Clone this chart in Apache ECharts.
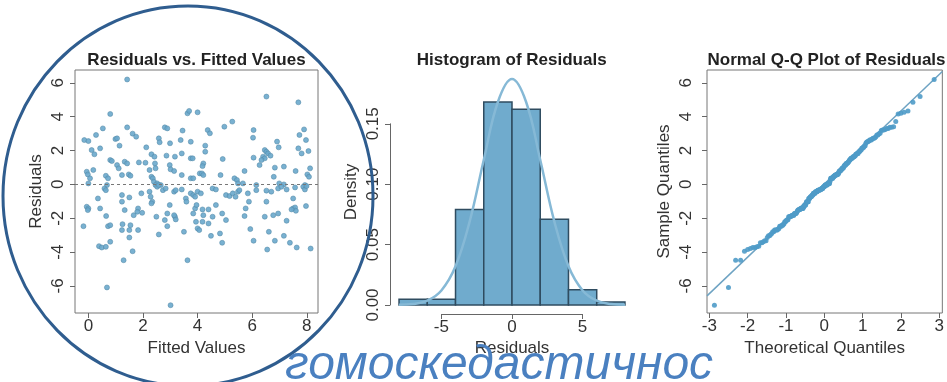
<!DOCTYPE html>
<html>
<head>
<meta charset="utf-8">
<script src="https://cdn.jsdelivr.net/npm/echarts@6/dist/echarts.min.js"></script>
<style>html,body{margin:0;padding:0;background:#fff}#c{width:947px;height:382px}</style>
</head>
<body>
<div id="c"></div>
<script>
// ---- data ----
const fittedValues = [
1.42,0.80,3.63,3.69,0.53,1.42,1.62,1.75,2.80,2.89,3.45,0.28,-0.15,0.00,0.99,1.05,2.58,2.61,2.99,3.38,
3.75,0.43,0.12,0.22,1.14,2.12,2.31,2.42,2.86,3.17,3.42,3.75,3.82,0.80,0.86,1.33,1.42,1.05,1.11,1.85,
2.09,2.44,2.46,2.24,2.98,3.01,3.14,-0.06,-0.02,0.18,0.64,0.72,1.23,1.48,1.54,2.31,2.36,2.40,2.52,3.42,
3.75,3.84,4.08,0.00,0.06,0.68,2.65,
6.52,7.69,4.00,5.27,4.98,4.37,4.45,6.05,7.90,6.03,7.73,7.97,4.28,4.28,6.91,6.97,7.69,7.81,8.06,6.46,
6.52,6.58,6.40,6.46,6.34,6.67,6.05,6.27,4.92,4.21,4.18,4.16,4.21,5.72,4.84,6.83,7.16,7.59,8.12,8.02,
8.08,6.79,5.35,5.44,5.48,5.66,6.15,6.99,7.16,7.93,
2.46,2.52,2.58,0.59,0.64,0.35,1.23,1.23,1.50,1.94,2.24,2.28,2.34,2.31,2.73,2.83,3.14,3.20,3.42,3.57,
3.59,3.75,3.84,4.00,3.91,-0.06,0.00,-0.02,0.43,1.33,1.82,1.79,1.97,1.66,2.98,3.17,3.20,3.14,2.89,2.80,
2.49,2.89,3.84,3.91,3.96,3.94,4.00,4.06,0.65,-0.18,0.72,0.80,1.25,1.23,1.54,1.50,1.82,2.58,3.50,1.50,
0.80,0.39,0.49,0.64,1.62,1.29,3.63,0.68,3.01,
4.12,4.55,4.67,5.04,5.17,5.29,5.39,5.48,5.53,5.84,6.15,6.52,6.70,6.95,7.07,7.26,7.57,7.87,7.93,7.99,
7.50,5.88,6.52,4.18,4.40,4.67,4.21,4.18,4.40,4.55,4.90,5.04,5.76,5.72,6.46,6.77,6.95,7.50,7.57,7.60,
7.44,7.97,7.26,4.49,4.82,4.90,5.93,6.05,6.61,6.83,7.16,7.38,7.63,6.55,8.14
];
const residualValues = [
6.20,4.16,4.20,4.34,3.31,3.37,3.00,2.82,3.37,3.31,3.18,2.92,2.62,2.56,2.68,2.72,2.72,2.49,2.43,2.62,
2.52,2.13,2.03,1.78,2.29,2.19,1.78,1.64,1.70,1.64,1.83,1.54,1.54,1.44,1.38,1.34,1.24,1.14,0.95,1.30,
1.28,1.24,0.95,0.85,1.14,0.89,0.79,0.75,0.59,0.85,0.51,0.36,0.55,0.59,0.51,0.45,0.36,0.16,0.06,0.55,
0.36,0.36,0.65,0.06,0.36,-0.04,-0.04,
5.19,4.85,4.26,3.71,3.41,3.21,3.02,3.21,3.25,2.76,2.92,2.62,2.29,1.93,2.53,2.19,2.13,1.83,1.97,2.03,
1.93,1.83,1.64,1.54,1.44,1.70,1.58,1.14,1.50,1.24,1.08,0.65,0.55,0.79,0.55,0.99,1.05,0.79,0.95,0.59,
0.45,0.45,0.36,0.26,0.06,0.06,-0.04,0.06,0.00,-0.04,
-0.04,-0.14,-0.04,-0.24,-0.34,-0.83,-0.63,-1.02,-0.77,-0.53,-0.43,-0.73,-1.02,-1.12,-0.34,-0.24,-0.43,-0.34,-0.30,-0.83,
-1.02,-0.53,-0.63,-0.43,-0.73,-1.32,-1.42,-1.52,-1.42,-1.52,-1.42,-1.62,-1.68,-1.82,-1.22,-1.91,-2.07,-1.82,-1.72,-2.11,
-1.91,-2.47,-1.72,-1.42,-1.22,-2.21,-2.60,-2.70,-1.87,-2.47,-2.47,-2.41,-2.35,-2.70,-2.41,-2.70,-2.70,-2.96,-2.80,-3.14,
-3.39,-3.65,-3.73,-3.69,-3.95,-4.48,-4.48,-6.09,-7.14,
-0.53,-0.24,-0.30,-0.63,-0.69,-0.53,-0.73,-0.43,-0.34,-0.53,-0.34,-0.37,-0.43,-0.24,-0.14,-0.30,-0.18,-0.14,-0.30,-0.10,
-0.83,-1.02,-1.02,-1.48,-1.48,-1.22,-1.82,-2.21,-2.31,-1.91,-1.72,-2.11,-1.42,-1.87,-1.91,-1.82,-1.72,-1.42,-1.36,-1.56,
-1.48,-1.28,-2.15,-3.04,-2.90,-3.45,-2.64,-3.33,-2.80,-3.33,-3.04,-3.45,-3.73,-3.85,-3.79
];
const histBinStart = [-8,-6,-4,-2,0,2,4,6];
const histBinEnd   = [-6,-4,-2,0,2,4,6,8];
const histDensity  = [0.0047,0.0047,0.079,0.168,0.162,0.071,0.0125,0.0025];
const curveX = [-8,-7,-6,-5,-4,-3,-2,-1,0,1,2,3,4,5,6,7,8];
const curveY = [0.0002,0.0008,0.0035,0.012,0.032,0.069,0.120,0.168,0.187,0.168,0.120,0.069,0.032,0.012,0.0035,0.0008,0.0002];
const scatterXTicks = [0,2,4,6,8];
const residTicks = [-6,-4,-2,0,2,4,6];
const qqXTicks = [-3,-2,-1,0,1,2,3];
const qqLineSlope = 2.16;
const qqLineIntercept = 0.02;
const titles = ['Residuals vs. Fitted Values','Histogram of Residuals','Normal Q-Q Plot of Residuals'];
const overlayText = 'гомоскедастичнос';

// ---- helpers ----
function qnorm(p){
 const a=[-3.969683028665376e+01,2.209460984245205e+02,-2.759285104469687e+02,1.383577518672690e+02,-3.066479806614716e+01,2.506628277459239e+00];
 const b=[-5.447609879822406e+01,1.615858368580409e+02,-1.556989798598866e+02,6.680131188771972e+01,-1.328068155288572e+01];
 const c=[-7.784894002430293e-03,-3.223964580411365e-01,-2.400758277161838e+00,-2.549732539343734e+00,4.374664141464968e+00,2.938163982698783e+00];
 const d=[7.784695709041462e-03,3.224671290700398e-01,2.445134137142996e+00,3.754408661907416e+00];
 const pl=0.02425, ph=1-pl; let q,r;
 if(p<pl){q=Math.sqrt(-2*Math.log(p));return (((((c[0]*q+c[1])*q+c[2])*q+c[3])*q+c[4])*q+c[5])/((((d[0]*q+d[1])*q+d[2])*q+d[3])*q+1);}
 if(p>ph){q=Math.sqrt(-2*Math.log(1-p));return -(((((c[0]*q+c[1])*q+c[2])*q+c[3])*q+c[4])*q+c[5])/((((d[0]*q+d[1])*q+d[2])*q+d[3])*q+1);}
 q=p-0.5;r=q*q;return (((((a[0]*r+a[1])*r+a[2])*r+a[3])*r+a[4])*r+a[5])*q/(((((b[0]*r+b[1])*r+b[2])*r+b[3])*r+b[4])*r+1);
}
const scatterData = fittedValues.map((x,i)=>[x,residualValues[i]]);
const sorted = residualValues.slice().sort((a,b)=>a-b);
const n = sorted.length;
const qqData = sorted.map((y,i)=>[qnorm((i+1-0.5)/n), y]);
const QQ_XMIN=-3.06, QQ_XMAX=3.08;
const qqLineData = [[QQ_XMIN, qqLineSlope*QQ_XMIN+qqLineIntercept],[QQ_XMAX, qqLineSlope*QQ_XMAX+qqLineIntercept]];
const histData = histBinStart.map((s,i)=>[s,histBinEnd[i],histDensity[i]]);
const curveData = curveX.map((x,i)=>[x,curveY[i]]);

const FONT = '"Liberation Sans", Arial, sans-serif';
const TXT = '#333';
const AX = '#666';
const labelStyle = {color:TXT, fontSize:17, fontFamily:FONT};
const nameStyle = {color:TXT, fontSize:17, fontFamily:FONT};
const noLine = {show:false, onZero:false};

const chart = echarts.init(document.getElementById('c'), null, {renderer:'canvas'});
const option = {
  animation:false,
  backgroundColor:'#fff',
  grid:[
    {left:75, top:70, width:243, height:243, show:true, borderColor:'#777', borderWidth:1, backgroundColor:'transparent'},
    {left:390, top:70, width:244, height:244},
    {left:441.4, top:70, width:141.2, height:244},
    {left:390, top:123.8, width:244, height:181.2},
    {left:707, top:70, width:239, height:243, show:true, borderColor:'#777', borderWidth:1, backgroundColor:'transparent'}
  ],
  xAxis:[
    {gridIndex:0, type:'value', position:'bottom', min:-0.49, max:8.41, splitLine:{show:false}, axisLine:noLine,
     axisTick:{show:true, length:5, customValues:scatterXTicks, lineStyle:{color:AX}},
     axisLabel:Object.assign({customValues:scatterXTicks, margin:5}, labelStyle),
     name:'Fitted Values', nameLocation:'middle', nameGap:26, nameTextStyle:nameStyle},
    {gridIndex:1, type:'value', position:'bottom', min:-8.64, max:8.64, show:true, axisLine:noLine, axisTick:{show:false}, axisLabel:{show:false}, splitLine:{show:false},
     name:'Residuals', nameLocation:'middle', nameGap:26, nameTextStyle:nameStyle},
    {gridIndex:2, type:'value', position:'bottom', min:-5, max:5, interval:5, splitLine:{show:false},
     axisLine:{show:true, onZero:false, lineStyle:{color:AX}}, axisTick:{show:true, length:5, lineStyle:{color:AX}},
     axisLabel:Object.assign({margin:5}, labelStyle)},
    {gridIndex:3, type:'value', show:false, min:-8.64, max:8.64},
    {gridIndex:4, type:'value', position:'bottom', min:QQ_XMIN, max:QQ_XMAX, splitLine:{show:false}, axisLine:noLine,
     axisTick:{show:true, length:5, customValues:qqXTicks, lineStyle:{color:AX}},
     axisLabel:Object.assign({customValues:qqXTicks, margin:5}, labelStyle),
     name:'Theoretical Quantiles', nameLocation:'middle', nameGap:26, nameTextStyle:nameStyle}
  ],
  yAxis:[
    {gridIndex:0, type:'value', position:'left', min:-7.6, max:6.76, splitLine:{show:false}, axisLine:noLine,
     axisTick:{show:true, length:5, customValues:residTicks, lineStyle:{color:AX}},
     axisLabel:Object.assign({customValues:residTicks, rotate:90, margin:8}, labelStyle),
     name:'Residuals', nameLocation:'middle', nameRotate:90, nameGap:30, nameTextStyle:nameStyle},
    {gridIndex:1, type:'value', position:'left', min:-0.0075, max:0.1945, show:true, axisLine:noLine, axisTick:{show:false}, axisLabel:{show:false}, splitLine:{show:false},
     name:'Density', nameLocation:'middle', nameRotate:90, nameGap:30, nameTextStyle:nameStyle},
    {gridIndex:2, type:'value', show:false, min:0, max:1},
    {gridIndex:3, type:'value', position:'left', min:0, max:0.15, interval:0.05, splitLine:{show:false},
     axisLine:{show:true, onZero:false, lineStyle:{color:AX}}, axisTick:{show:true, length:5, lineStyle:{color:AX}},
     axisLabel:Object.assign({rotate:90, margin:8, formatter:v=>v.toFixed(2)}, labelStyle)},
    {gridIndex:4, type:'value', position:'left', min:-7.6, max:6.76, splitLine:{show:false}, axisLine:noLine,
     axisTick:{show:true, length:5, customValues:residTicks, lineStyle:{color:AX}},
     axisLabel:Object.assign({customValues:residTicks, rotate:90, margin:12}, labelStyle),
     name:'Sample Quantiles', nameLocation:'middle', nameRotate:90, nameGap:34, nameTextStyle:nameStyle}
  ],
  series:[
    {type:'scatter', xAxisIndex:0, yAxisIndex:0, data:scatterData, symbolSize:5,
     itemStyle:{color:'#6aa8cc', borderColor:'#5287a6', borderWidth:0.6, opacity:0.9},
     markLine:{silent:true, symbol:'none', label:{show:false},
       lineStyle:{color:'#777', type:[3,3], width:1.2}, data:[{yAxis:0}]}},
    {type:'custom', xAxisIndex:1, yAxisIndex:1, data:histData,
     renderItem:function(params, api){
       const p0 = api.coord([api.value(0), api.value(2)]);
       const p1 = api.coord([api.value(1), 0]);
       return {type:'rect', shape:{x:p0[0], y:p0[1], width:p1[0]-p0[0], height:p1[1]-p0[1]},
         style:{fill:'#70abcd', stroke:'#2f4c60', lineWidth:1.5}};
     }},
    {type:'line', xAxisIndex:1, yAxisIndex:1, data:curveData, smooth:0.4, symbol:'none',
     lineStyle:{color:'#86b9d6', width:2.5}, z:5},
    {type:'line', xAxisIndex:4, yAxisIndex:4, data:qqLineData, symbol:'none',
     lineStyle:{color:'#6ea3c3', width:1.5}},
    {type:'scatter', xAxisIndex:4, yAxisIndex:4, data:qqData, symbolSize:5,
     itemStyle:{color:'#4f9bc8', opacity:0.9}, z:4}
  ],
  graphic:[
    {type:'text', x:196.5, y:60, style:{text:titles[0], align:'center', verticalAlign:'middle', font:'bold 17px ' + FONT, fill:'#222'}},
    {type:'text', x:511.7, y:60, style:{text:titles[1], align:'center', verticalAlign:'middle', font:'bold 17px ' + FONT, fill:'#222'}},
    {type:'text', x:826.5, y:60, style:{text:titles[2], align:'center', verticalAlign:'middle', font:'bold 17px ' + FONT, fill:'#222'}},
    {type:'ellipse', shape:{cx:188, cy:196, rx:185, ry:190}, style:{fill:null, stroke:'#2f5d8f', lineWidth:3}, z:100},
    {type:'text', x:285, y:366, z:101, style:{text:overlayText, align:'left', verticalAlign:'middle', font:'italic 48px ' + FONT, fill:'#4a80c0'}}
  ]
};
chart.setOption(option);
</script>
</body>
</html>
